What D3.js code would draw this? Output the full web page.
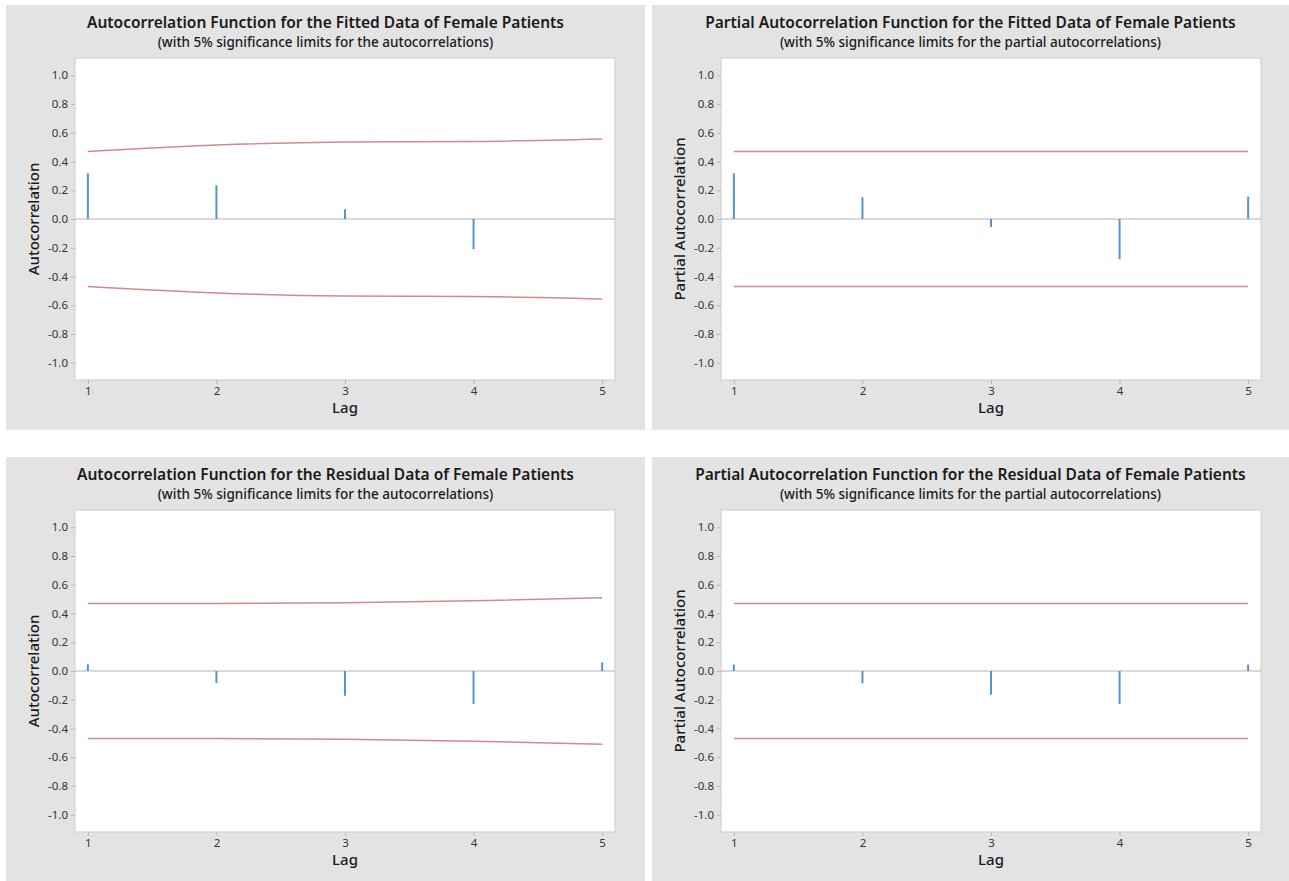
<!DOCTYPE html>
<html>
<head>
<meta charset="utf-8">
<script src="https://cdn.jsdelivr.net/npm/d3@7"></script>
<style>
  html, body { margin: 0; padding: 0; background: #ffffff; }
  svg { display: block; }
  text { font-family: "Noto Sans", "Open Sans", sans-serif; }
</style>
</head>
<body>
<svg id="chart" width="1289" height="881"></svg>
<script>
// ---------------- data ----------------
const lags = [1, 2, 3, 4, 5];
const yTicks = [-1.0, -0.8, -0.6, -0.4, -0.2, 0.0, 0.2, 0.4, 0.6, 0.8, 1.0];

const fittedACF      = [0.318, 0.234, 0.067, -0.21, 0.0];
const fittedACFLimit = [0.469, 0.514, 0.535, 0.539, 0.556];

const fittedPACF      = [0.318, 0.151, -0.056, -0.28, 0.156];
const fittedPACFLimit = [0.469, 0.469, 0.469, 0.469, 0.469];

const residualACF      = [0.047, -0.083, -0.172, -0.23, 0.06];
const residualACFLimit = [0.469, 0.470, 0.475, 0.488, 0.509];

const residualPACF      = [0.045, -0.086, -0.165, -0.23, 0.045];
const residualPACFLimit = [0.469, 0.469, 0.469, 0.469, 0.469];

const titles = [
  "Autocorrelation Function for the Fitted Data of Female Patients",
  "Partial Autocorrelation Function for the Fitted Data of Female Patients",
  "Autocorrelation Function for the Residual Data of Female Patients",
  "Partial Autocorrelation Function for the Residual Data of Female Patients"
];
const subtitles = [
  "(with 5% significance limits for the autocorrelations)",
  "(with 5% significance limits for the partial autocorrelations)",
  "(with 5% significance limits for the autocorrelations)",
  "(with 5% significance limits for the partial autocorrelations)"
];
const yLabels = ["Autocorrelation", "Partial Autocorrelation", "Autocorrelation", "Partial Autocorrelation"];
const xLabel = "Lag";

// ---------------- layout ----------------
const panels = [
  { x: 6,   y: 5,   w: 639, h: 425, values: fittedACF,    limits: fittedACFLimit },
  { x: 652, y: 5,   w: 637, h: 425, values: fittedPACF,   limits: fittedPACFLimit },
  { x: 6,   y: 457, w: 639, h: 424, values: residualACF,  limits: residualACFLimit },
  { x: 652, y: 457, w: 637, h: 424, values: residualPACF, limits: residualPACFLimit }
];

const svg = d3.select("#chart");
const BG = "#e3e3e3";
const BAR = "#5592d6";
const LIMIT = "#d48a8a";

panels.forEach((p, i) => {
  const g = svg.append("g").attr("transform", `translate(${p.x},${p.y})`);
  g.append("rect").attr("width", p.w).attr("height", p.h).attr("fill", BG);

  const left = 69, right = 609, top = 53, bottom = 375;
  const x = d3.scaleLinear().domain([0.9, 5.1]).range([left, right]);
  const y = d3.scaleLinear().domain([-1.12, 1.12]).range([bottom, top]);

  // plot area
  g.append("rect")
    .attr("x", left).attr("y", top)
    .attr("width", right - left).attr("height", bottom - top)
    .attr("fill", "#ffffff").attr("stroke", "#d2d2d2").attr("stroke-width", 1.2);

  // titles
  const cx = (p.w) / 2;
  g.append("text").attr("x", cx).attr("y", 23)
    .attr("text-anchor", "middle").attr("font-size", 15.5).attr("font-weight", 600)
    .attr("fill", "#1a1a1a").text(titles[i]);
  g.append("text").attr("x", cx).attr("y", 42)
    .attr("text-anchor", "middle").attr("font-size", 13.5).attr("font-weight", 500)
    .attr("fill", "#1a1a1a").text(subtitles[i]);

  // y axis
  const yAxis = d3.axisLeft(y).tickValues(yTicks).tickFormat(d3.format(".1f"))
    .tickSize(4).tickPadding(3);
  const ya = g.append("g").attr("transform", `translate(${left},0)`).call(yAxis);
  ya.select(".domain").remove();
  ya.selectAll(".tick line").attr("stroke", "#b8b8b8");
  ya.selectAll(".tick text").attr("font-size", 11.5).attr("fill", "#333")
    .attr("font-family", "'Liberation Sans Narrow', 'Noto Sans', sans-serif")
    .text(d => d3.format(".1f")(d).replace("−", "-"));

  // x axis
  const xAxis = d3.axisBottom(x).tickValues(lags).tickFormat(d3.format("d"))
    .tickSize(4).tickPadding(3);
  const xa = g.append("g").attr("transform", `translate(0,${bottom})`).call(xAxis);
  xa.select(".domain").remove();
  xa.selectAll(".tick line").attr("stroke", "#b8b8b8");
  xa.selectAll(".tick text").attr("font-size", 11.5).attr("fill", "#333")
    .attr("font-family", "'Liberation Sans Narrow', 'Noto Sans', sans-serif");

  // axis labels
  g.append("text").attr("x", (left + right) / 2).attr("y", 408)
    .attr("text-anchor", "middle").attr("font-size", 15).attr("font-weight", 500)
    .attr("fill", "#1a1a1a").text(xLabel);
  g.append("text")
    .attr("transform", `translate(33,${(top + bottom) / 2}) rotate(-90)`)
    .attr("text-anchor", "middle").attr("font-size", 15).attr("font-weight", 500)
    .attr("fill", "#1a1a1a").text(yLabels[i]);

  // zero line
  g.append("line")
    .attr("x1", left).attr("x2", right)
    .attr("y1", y(0)).attr("y2", y(0))
    .attr("stroke", "#b4b4b4").attr("stroke-width", 1.2);

  // significance limits
  const upper = lags.map((l, k) => [l, p.limits[k]]);
  const lower = lags.map((l, k) => [l, -p.limits[k]]);
  const line = d3.line().x(d => x(d[0])).y(d => y(d[1])).curve(d3.curveMonotoneX);
  [upper, lower].forEach(pts => {
    g.append("path").attr("d", line(pts))
      .attr("fill", "none").attr("stroke", LIMIT).attr("stroke-width", 1.5);
  });

  // bars
  g.selectAll(".bar").data(lags.map((l, k) => ({ lag: l, v: p.values[k] })))
    .enter().append("line")
    .attr("class", "bar")
    .attr("x1", d => x(d.lag)).attr("x2", d => x(d.lag))
    .attr("y1", y(0)).attr("y2", d => y(d.v))
    .attr("stroke", BAR).attr("stroke-width", 2);
});
</script>
</body>
</html>
